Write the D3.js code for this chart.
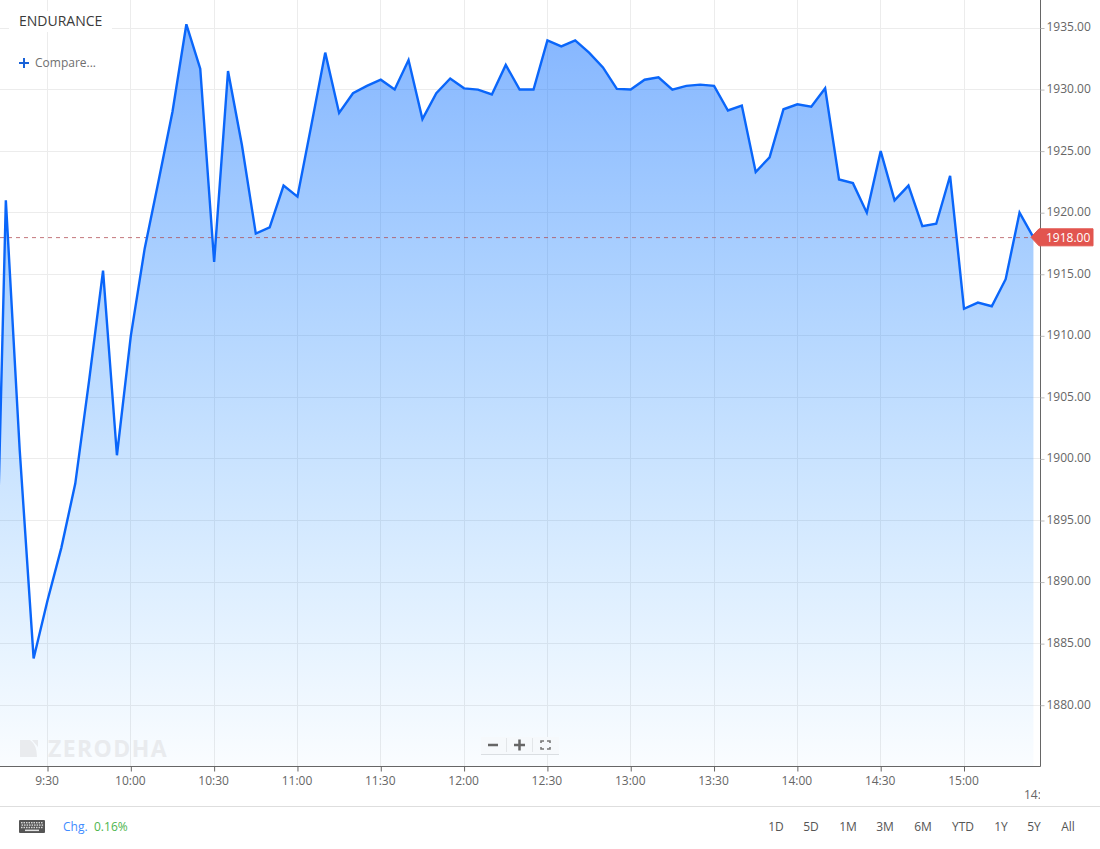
<!DOCTYPE html>
<html><head><meta charset="utf-8">
<script src="https://cdn.jsdelivr.net/npm/d3@7/dist/d3.min.js"></script>
<style>
html,body{margin:0;padding:0;background:#fff;overflow:hidden}
svg{display:block;font-family:"Open Sans",sans-serif}
</style></head><body><svg id="c" width="1100" height="849"></svg>
<script>
const symbol = "ENDURANCE";
const startMinute = 9*60+10;
const stepMinutes = 5;
const closes = [1875.3,1921.0,1900.7,1883.8,1888.5,1892.8,1898,1906.4,1915.3,1900.3,1910,1917.1,1922.6,1928.2,1935.3,1931.7,1916,1931.5,1925.5,1918.3,1918.8,1922.2,1921.3,1927.1,1933,1928.1,1929.7,1930.3,1930.8,1930,1932.4,1927.6,1929.7,1930.9,1930.1,1930,1929.6,1932,1930,1930,1934,1933.5,1934,1933,1931.8,1930.05,1930,1930.8,1931,1930,1930.3,1930.4,1930.3,1928.3,1928.7,1923.3,1924.5,1928.4,1928.8,1928.6,1930.1,1922.7,1922.4,1920,1925,1921,1922.2,1918.9,1919.1,1923,1912.2,1912.7,1912.4,1914.6,1920,1918];
const priceTicks = [1880,1885,1890,1895,1900,1905,1910,1915,1920,1925,1930,1935];
const timeTicks = [570,600,630,660,690,720,750,780,810,840,870,900];
const lastPrice = 1918;
const ranges = ["1D","5D","1M","3M","6M","YTD","1Y","5Y","All"];
const rangeCentres = [776,811,848,885,923,963,1001,1034,1068];

const svg = d3.select("#c");
const W=1040, B=766;
const x = d3.scaleLinear().domain([570,900]).range([47.5,964]);
const y = d3.scaleLinear().domain([1880,1935]).range([705.2,28]);
const pts = closes.map((v,i)=>({t:startMinute+i*stepMinutes,v}));
const defs = svg.append("defs");
defs.append("clipPath").attr("id","plot").append("rect").attr("x",0).attr("y",0).attr("width",W).attr("height",B);
const g = defs.append("linearGradient").attr("id","fade").attr("gradientUnits","userSpaceOnUse")
  .attr("x1",0).attr("x2",0).attr("y1",24).attr("y2",766);
g.append("stop").attr("offset",0).attr("stop-color","#0a6cff").attr("stop-opacity",0.5);
g.append("stop").attr("offset",1).attr("stop-color","#0a8cff").attr("stop-opacity",0.02);

const plot = svg.append("g").attr("clip-path","url(#plot)");
plot.selectAll("line.h").data(priceTicks).join("line").attr("class","h")
  .attr("x1",0).attr("x2",W).attr("y1",d=>Math.floor(y(d))+.5).attr("y2",d=>Math.floor(y(d))+.5)
  .attr("stroke","#ececec");
plot.selectAll("line.v").data(timeTicks).join("line").attr("class","v")
  .attr("y1",0).attr("y2",B).attr("x1",d=>Math.floor(x(d))+.5).attr("x2",d=>Math.floor(x(d))+.5)
  .attr("stroke","#ececec");

// watermark
const wm = svg.append("g");
wm.append("path").attr("d","M20 740H30Q37 745 37 757H20Z").attr("fill","#e9ebee");
wm.append("path").attr("d","M32 740H38V747Z").attr("fill","#e9ebee");
wm.append("text").attr("x",48).attr("y",756.5).attr("font-size",23).attr("font-weight",700).attr("letter-spacing",1.4)
  .attr("fill","#e9ebee").text("ZERODHA");

plot.append("path").datum(pts).attr("fill","url(#fade)")
  .attr("d",d3.area().x(d=>x(d.t)).y1(d=>y(d.v)).y0(B));
// dashed last-price line
plot.append("line").attr("x1",0).attr("x2",x(pts[pts.length-1].t)).attr("y1",y(lastPrice)+.3).attr("y2",y(lastPrice)+.3)
  .attr("stroke","#b04a50").attr("stroke-opacity",.75).attr("stroke-dasharray","4 4");
plot.append("path").datum(pts).attr("fill","none").attr("stroke","#0a66fa").attr("stroke-width",2.4)
  .attr("stroke-linejoin","miter").attr("d",d3.line().x(d=>x(d.t)).y(d=>y(d.v)));

// axes
const yAxis = svg.append("g").attr("transform",`translate(${W+.5},0)`)
  .call(d3.axisRight(y).tickValues(priceTicks).tickSize(4).tickPadding(2).tickFormat(d3.format(".2f")));
yAxis.select(".domain").attr("d",`M0,0V${B+.5}`).attr("stroke","#666");
yAxis.selectAll("line").attr("stroke","#bbb");
yAxis.selectAll("text").attr("font-size",12).attr("font-family","Open Sans").attr("fill","#666").attr("dy","0.24em");

const fmt = m=>`${Math.floor(m/60)}:${String(m%60).padStart(2,"0")}`;
const xAxis = svg.append("g").attr("transform",`translate(0,${B+.5})`)
  .call(d3.axisBottom(x).tickValues(timeTicks).tickSize(5).tickPadding(1).tickFormat(fmt));
xAxis.select(".domain").attr("d",`M0,0H${W+.5}`).attr("stroke","#666");
xAxis.selectAll("line").attr("stroke","#666");
xAxis.selectAll("text").attr("font-size",12).attr("font-family","Open Sans").attr("fill","#666").attr("dy",null).attr("y",18).attr("dx",-1);

// price tag
const ly = y(lastPrice);
svg.append("path").attr("d",`M1031 ${ly}L1039 ${ly-8.5}H1093V${ly+8.5}H1039Z`).attr("fill","#e2554f").attr("stroke","#e2554f").attr("stroke-linejoin","round");
svg.append("text").attr("x",1046).attr("y",ly+4.5).attr("font-size",12).attr("fill","#fff").text(lastPrice.toFixed(2));

// title
svg.append("rect").attr("x",9).attr("y",11).attr("width",103).attr("height",21).attr("fill","#fff");
svg.append("text").attr("x",19).attr("y",26).attr("font-size",14).attr("fill","#3a3a3a").text(symbol);
svg.append("path").attr("d","M19 63H29M24 58V68").attr("stroke","#1a63d8").attr("stroke-width",2);
svg.append("text").attr("x",35).attr("y",67).attr("font-size",12).attr("fill","#6f6f6f").text("Compare...");

// zoom buttons
const zb = svg.append("g");
zb.append("rect").attr("x",481).attr("y",737).attr("width",78).attr("height",17).attr("fill","#f6f9fc");
zb.append("line").attr("x1",481).attr("x2",559).attr("y1",754.5).attr("y2",754.5).attr("stroke","#dadee2");
zb.append("path").attr("d","M506.5 738V752M532.5 738V752").attr("stroke","#e3e6e9");
zb.append("path").attr("d","M488 745H498M514 745H525M519.5 739.5V750.5").attr("stroke","#666").attr("stroke-width",2.5);
zb.append("path").attr("d","M541 743V741H544M547 741H550V743M550 747V749H547M544 749H541V747").attr("fill","none").attr("stroke","#777").attr("stroke-width",1.6);

// sliver of a date label clipped by the axis edge
svg.append("clipPath").attr("id","dateclip").append("rect").attr("x",1000).attr("y",780).attr("width",40).attr("height",25);
svg.append("text").attr("clip-path","url(#dateclip)").attr("x",1024).attr("y",799).attr("font-size",12).attr("fill","#666").text("14:00");

// footer
svg.append("line").attr("x1",0).attr("x2",1100).attr("y1",806.5).attr("y2",806.5).attr("stroke","#dedede");
const kb = svg.append("g");
kb.append("rect").attr("x",19).attr("y",820).attr("width",26).attr("height",13).attr("rx",1).attr("fill","#555");
kb.selectAll("rect.k").data(d3.range(27)).join("rect").attr("class","k")
  .attr("x",d=>21+(d%9)*2.5+ (Math.floor(d/9)%2)*.6).attr("y",d=>822+Math.floor(d/9)*2.4)
  .attr("width",1.5).attr("height",1.4).attr("fill","#d8d8d8");
kb.append("rect").attr("x",25).attr("y",829.6).attr("width",14).attr("height",1.5).attr("fill","#e4e4e4");
svg.append("text").attr("x",63).attr("y",831).attr("font-size",12).attr("fill","#3f8cff").text("Chg.");
svg.append("text").attr("x",94).attr("y",831).attr("font-size",12).attr("fill","#4db54d").text("0.16%");
svg.selectAll("text.r").data(ranges).join("text").attr("class","r")
  .attr("x",(d,i)=>rangeCentres[i]).attr("y",831).attr("text-anchor","middle").attr("font-size",12).attr("fill","#555").text(d=>d);
</script></body></html>
